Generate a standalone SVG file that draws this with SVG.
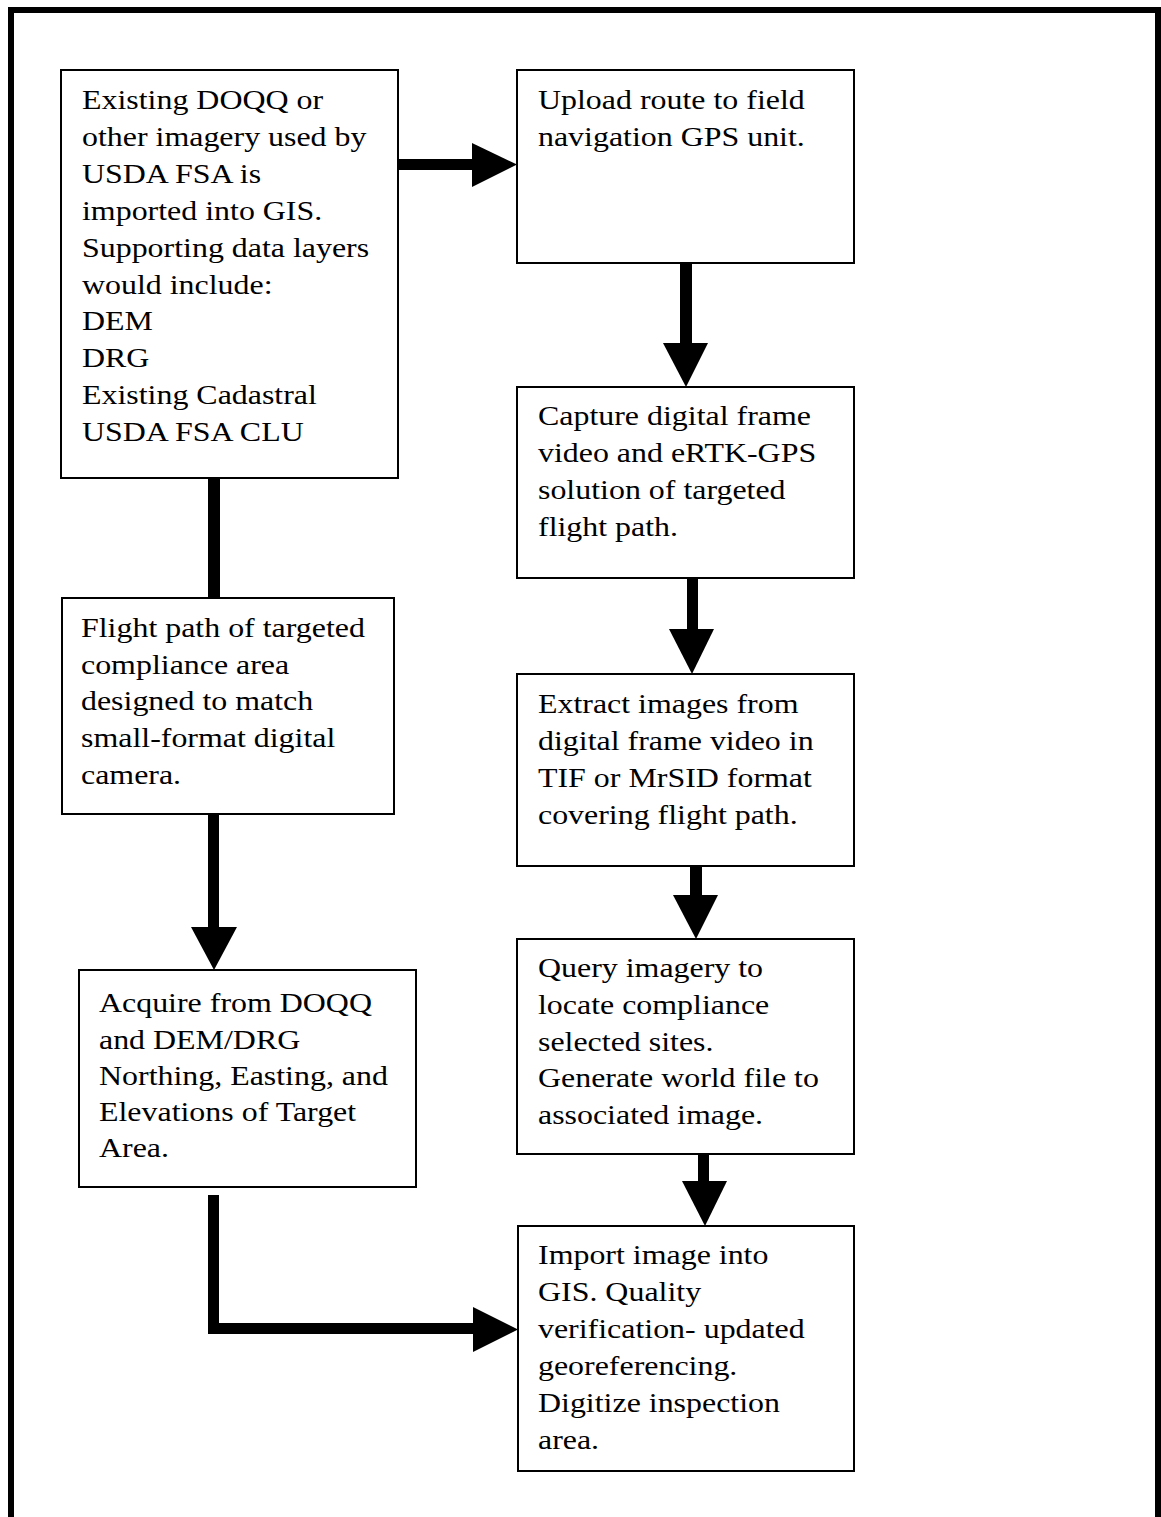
<svg xmlns="http://www.w3.org/2000/svg" width="1161" height="1517" viewBox="0 0 1161 1517">
<style>
.box{fill:#fff;stroke:#000;stroke-width:2}
.t{font-family:"Liberation Serif","Times New Roman",serif;font-size:28px;fill:#000}
.frame{fill:none;stroke:#000;stroke-width:6}
.sh{fill:#000}
</style>
<rect width="1161" height="1517" fill="#fff"/>
<path class="frame" d="M11,1517 V10 H1158 V1517"/>
<g id="connectors">
<rect class="sh" x="397" y="159" width="76" height="11"/>
<polygon class="sh" points="472,143 517,164.5 472,187"/>
<rect class="sh" x="680" y="263" width="12" height="82"/>
<polygon class="sh" points="663,343 708,343 686,387"/>
<rect class="sh" x="687" y="578" width="11" height="53"/>
<polygon class="sh" points="669,629 714,629 692,674"/>
<rect class="sh" x="690" y="866" width="12" height="31"/>
<polygon class="sh" points="673,895 718,895 696,939"/>
<rect class="sh" x="698" y="1154" width="11" height="29"/>
<polygon class="sh" points="682,1181 727,1181 705,1226"/>
<rect class="sh" x="208" y="478" width="12" height="120"/>
<rect class="sh" x="208" y="814" width="11" height="115"/>
<polygon class="sh" points="191,927 237,927 214,970"/>
<path class="sh" d="M208,1195 H219 V1323 H474 V1334 H208 Z"/>
<polygon class="sh" points="473,1307 518,1329.5 473,1352"/>
</g>
<g id="n1">
<rect class="box" x="61" y="70" width="337" height="408"/>
<g transform="matrix(1.14,0,0,1,82,0)">
<text class="t" x="0" y="109">Existing DOQQ or</text>
<text class="t" x="0" y="146">other imagery used by</text>
<text class="t" x="0" y="183">USDA FSA is</text>
<text class="t" x="0" y="220">imported into GIS.</text>
<text class="t" x="0" y="257">Supporting data layers</text>
<text class="t" x="0" y="294">would include:</text>
<text class="t" x="0" y="330">DEM</text>
<text class="t" x="0" y="367">DRG</text>
<text class="t" x="0" y="404">Existing Cadastral</text>
<text class="t" x="0" y="441">USDA FSA CLU</text>
</g>
</g>
<g id="n2">
<rect class="box" x="62" y="598" width="332" height="216"/>
<g transform="matrix(1.14,0,0,1,81,0)">
<text class="t" x="0" y="637">Flight path of targeted</text>
<text class="t" x="0" y="674">compliance area</text>
<text class="t" x="0" y="710">designed to match</text>
<text class="t" x="0" y="747">small-format digital</text>
<text class="t" x="0" y="784">camera.</text>
</g>
</g>
<g id="n3">
<rect class="box" x="79" y="970" width="337" height="217"/>
<g transform="matrix(1.14,0,0,1,99,0)">
<text class="t" x="0" y="1012">Acquire from DOQQ</text>
<text class="t" x="0" y="1049">and DEM/DRG</text>
<text class="t" x="0" y="1085">Northing, Easting, and</text>
<text class="t" x="0" y="1121">Elevations of Target</text>
<text class="t" x="0" y="1157">Area.</text>
</g>
</g>
<g id="n4">
<rect class="box" x="517" y="70" width="337" height="193"/>
<g transform="matrix(1.14,0,0,1,538,0)">
<text class="t" x="0" y="109">Upload route to field</text>
<text class="t" x="0" y="146">navigation GPS unit.</text>
</g>
</g>
<g id="n5">
<rect class="box" x="517" y="387" width="337" height="191"/>
<g transform="matrix(1.14,0,0,1,538,0)">
<text class="t" x="0" y="425">Capture digital frame</text>
<text class="t" x="0" y="462">video and eRTK-GPS</text>
<text class="t" x="0" y="499">solution of targeted</text>
<text class="t" x="0" y="536">flight path.</text>
</g>
</g>
<g id="n6">
<rect class="box" x="517" y="674" width="337" height="192"/>
<g transform="matrix(1.14,0,0,1,538,0)">
<text class="t" x="0" y="713">Extract images from</text>
<text class="t" x="0" y="750">digital frame video in</text>
<text class="t" x="0" y="787">TIF or MrSID format</text>
<text class="t" x="0" y="824">covering flight path.</text>
</g>
</g>
<g id="n7">
<rect class="box" x="517" y="939" width="337" height="215"/>
<g transform="matrix(1.14,0,0,1,538,0)">
<text class="t" x="0" y="977">Query imagery to</text>
<text class="t" x="0" y="1014">locate compliance</text>
<text class="t" x="0" y="1051">selected sites.</text>
<text class="t" x="0" y="1087">Generate world file to</text>
<text class="t" x="0" y="1124">associated image.</text>
</g>
</g>
<g id="n8">
<rect class="box" x="518" y="1226" width="336" height="245"/>
<g transform="matrix(1.14,0,0,1,538,0)">
<text class="t" x="0" y="1264">Import image into</text>
<text class="t" x="0" y="1301">GIS. Quality</text>
<text class="t" x="0" y="1338">verification- updated</text>
<text class="t" x="0" y="1375">georeferencing.</text>
<text class="t" x="0" y="1412">Digitize inspection</text>
<text class="t" x="0" y="1449">area.</text>
</g>
</g>
</svg>
